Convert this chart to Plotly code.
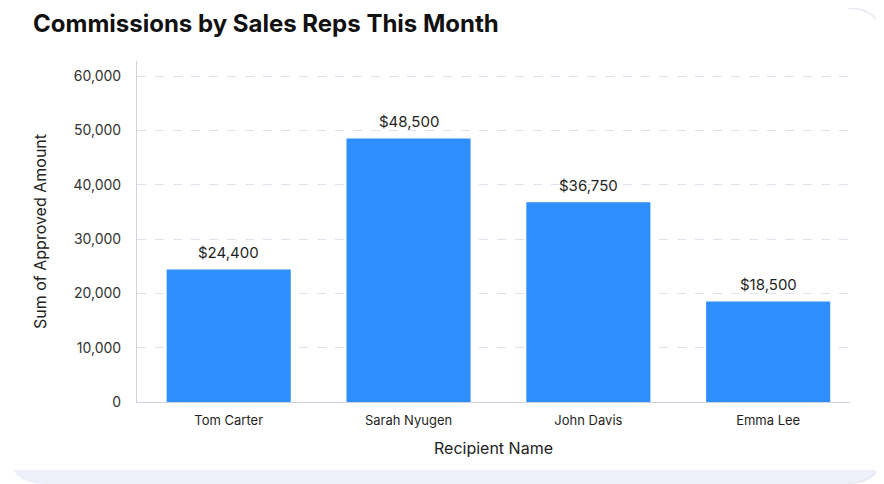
import plotly.graph_objects as go

# ── Data ──
reps = ["Tom Carter", "Sarah Nyugen", "John Davis", "Emma Lee"]
approved = [24400, 48500, 36750, 18500]
y_ticks = [0, 10000, 20000, 30000, 40000, 50000, 60000]

# the page body has an 8px margin, so the figure is drawn 8px in from the corner;
# everything below is laid out in screen pixels and shifted back by OFF
OFF = 8
SW, SH = 884, 484                 # screen size
W, H = SW - OFF, SH - OFF         # figure size
L, R, T, B = 137 - OFF, SW - 850, 61 - OFF, SH - 402

BLUE = "#2e8efc"
LAV = "#eef0f9"
FONT = "Inter, Noto Sans, sans-serif"


def px(x, y):
    """screen pixel -> paper coords (paper is the plot area)"""
    x, y = x - OFF, y - OFF
    return (x - L) / (W - L - R), (H - B - y) / (H - T - B)


def path(points, close=True):
    out = []
    for cmd, pts in points:
        coords = " ".join(f"{a:.5f},{b:.5f}" for a, b in (px(*p) for p in pts))
        out.append(f"{cmd} {coords}")
    return " ".join(out) + (" Z" if close else "")


# card background: lavender band at the bottom, white corner masks, faint outline
rad = 36
shapes = [
    dict(type="path", xref="paper", yref="paper", layer="below",
         path=path([("M", [(0, 470)]), ("L", [(SW, 470)]), ("L", [(SW, SH)]), ("L", [(0, SH)])]),
         fillcolor=LAV, line=dict(width=0)),
]
for cx, cy, sx, sy in [(SW, SH, -1, -1), (OFF, SH, 1, -1)]:
    shapes.append(dict(
        type="path", xref="paper", yref="paper", layer="below",
        path=path([("M", [(cx, cy)]), ("L", [(cx, cy + sy * rad)]),
                   ("Q", [(cx, cy), (cx + sx * rad, cy)])]),
        fillcolor="white", line=dict(width=0)))
shapes.append(dict(
    type="path", xref="paper", yref="paper", layer="below",
    path=path([("M", [(SW - rad, OFF)]),
               ("Q", [(SW - 1, OFF), (SW - 1, OFF + rad)]), ("L", [(SW - 1, SH - rad)]),
               ("Q", [(SW - 1, SH - 1), (SW - rad, SH - 1)])], close=False),
    fillcolor="rgba(0,0,0,0)", line=dict(color="#e6e8f3", width=1.5)))

fig = go.Figure(go.Bar(
    x=reps, y=approved, width=0.69,
    marker=dict(color=BLUE, line=dict(width=0)),
    hoverinfo="skip",
))

for name, val in zip(reps, approved):
    fig.add_annotation(
        x=name, y=val, text=f"${val:,}", showarrow=False,
        yanchor="bottom", yshift=5,
        font=dict(family=FONT, size=15, color="#1f1f24"),
    )

# chart title as a paper annotation so its box stays inside the figure
tx, ty = px(32, OFF + 0.5)
fig.add_annotation(
    x=tx, y=ty, xref="paper", yref="paper", xanchor="left", yanchor="top",
    text="<b>Commissions by Sales Reps This Month</b>", showarrow=False,
    borderpad=0, font=dict(family=FONT, size=24, color="#111"),
)

fig.update_layout(
    width=W, height=H,
    margin=dict(l=L, r=R, t=T, b=B),
    paper_bgcolor="white", plot_bgcolor="rgba(0,0,0,0)",
    font=dict(family=FONT, color="#333"),
    showlegend=False,
    shapes=shapes,
    xaxis=dict(
        range=[-0.51, 3.455],
        showgrid=False, showline=True, linecolor="#cfd1de", linewidth=1,
        ticks="", ticklabelstandoff=6,
        tickfont=dict(family=FONT, size=13, color="#1f1f24"),
        title=dict(text="Recipient Name", standoff=16,
                   font=dict(family=FONT, size=16, color="#222")),
        fixedrange=True,
    ),
    yaxis=dict(
        range=[0, 62760],
        tickvals=y_ticks, tickformat=",",
        showgrid=True, gridcolor="#dfe1ee", griddash="dash", gridwidth=1,
        zeroline=False,
        showline=True, linecolor="#cfd1de", linewidth=1,
        ticks="", ticklabelstandoff=12,
        tickfont=dict(family=FONT, size=14, color="#333"),
        title=dict(text="Sum of Approved Amount", standoff=22,
                   font=dict(family=FONT, size=16, color="#222")),
        fixedrange=True,
    ),
)

fig.write_html("out.html")
